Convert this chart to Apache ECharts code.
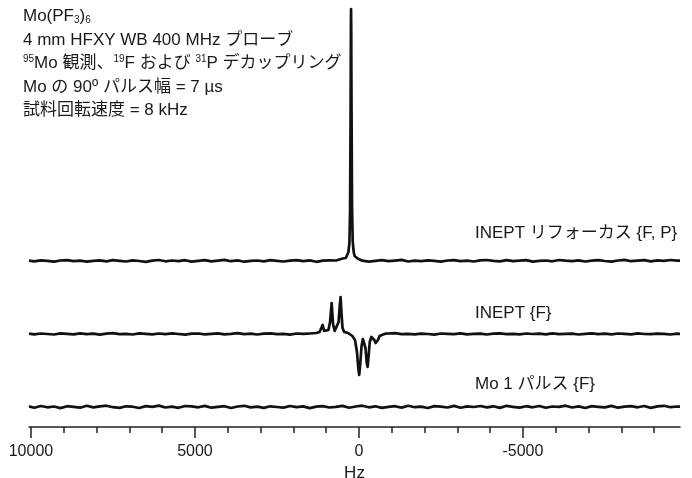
<!DOCTYPE html>
<html>
<head>
<meta charset="utf-8">
<script src="https://cdn.jsdelivr.net/npm/echarts@6/dist/echarts.min.js"></script>
<style>
html,body{margin:0;padding:0;background:#fff;}
#chart{width:692px;height:478px;}
</style>
</head>
<body>
<div id="chart"></div>
<script>
// ---- data ----
const titleLines = ['Mo(PF{sub|3}){sub|6}', '4 mm HFXY WB 400 MHz プローブ', '{sup|95}Mo 観測、{sup|19}F および {sup|31}P デカップリング', 'Mo の 90º パルス幅 = 7 µs', '試料回転速度 = 8 kHz'];
const traceNames = ['INEPT リフォーカス {F, P}', 'INEPT {F}', 'Mo 1 パルス {F}'];
const tickValues = [10000, 5000, 0, -5000];
const minorTickValues = [9000, 8000, 7000, 6000, 4000, 3000, 2000, 1000, -1000, -2000, -3000, -4000, -6000, -7000, -8000, -9000];
const axisName = 'Hz';

const baselineHz = [10060, 9900, 9700, 9500, 9300, 9100, 8900, 8700, 8500, 8300, 8100, 7900, 7700, 7500, 7300, 7100, 6900, 6700, 6500, 6300, 6100, 5900, 5700, 5500, 5300, 5100, 4900, 4700, 4500, 4300, 4100, 3900, 3700, 3500, 3300, 3100, 2900, 2700, 2500, 2300, 2100, 1900, 1700, 1500, 1300, 1100, 900, 700, 500, 300, 100, -100, -300, -500, -700, -900, -1100, -1300, -1500, -1700, -1900, -2100, -2300, -2500, -2700, -2900, -3100, -3300, -3500, -3700, -3900, -4100, -4300, -4500, -4700, -4900, -5100, -5300, -5500, -5700, -5900, -6100, -6300, -6500, -6700, -6900, -7100, -7300, -7500, -7700, -7900, -8100, -8300, -8500, -8700, -8900, -9100, -9300, -9500, -9700, -9790];

const topNoise = [0.4,-0.3,0.7,0.1,-0.6,0.5,0.9,-0.2,0.3,-0.7,
0.2,0.6,-0.4,0.8,0.1,-0.5,0.7,0.0,-0.8,0.4,
1.0,-0.3,0.5,-0.1,0.8,-0.6,0.2,0.9,-0.4,0.3,
1.1,-0.2,0.6,-0.7,0.1,0.5,-0.3,0.8,0.2,-0.5,
0.4,0.9,-0.1,0.6,-0.8,0.3,0.7,-0.4,0.2,1.0,
-0.3,0.5,-0.6,0.1,0.8,-0.2,0.4,1.1,-0.5,0.3,
-0.1,0.7,0.2,-0.7,0.5,0.9,-0.2,0.3,-0.5,0.6,
1.0,0.1,-0.4,0.8,-0.1,0.4,0.9,-0.6,0.2,0.5,
-0.3,1.0,0.3,-0.2,0.7,-0.5,0.4,0.8,0.0,-0.6,
0.5,1.1,-0.2,0.3,0.8,-0.4,0.6,0.2,1.0,0.4,
0.3];
const midNoise = [0.3,-0.4,0.5,0.0,-0.5,0.6,0.2,-0.3,0.7,-0.2,
0.4,-0.6,0.3,0.8,-0.1,0.2,-0.5,0.6,0.1,-0.4,
0.5,-0.2,0.7,0.0,-0.6,0.3,0.5,-0.3,0.2,0.6,
-0.4,0.1,0.8,-0.2,0.4,-0.5,0.3,0.6,-0.1,0.2,
-0.6,0.5,0.1,-0.3,0.7,0.0,-0.4,0.4,0.2,-0.2,
0.6,-0.5,0.3,0.1,-0.3,0.5,0.8,-0.1,0.2,-0.4,
0.4,0.0,-0.6,0.5,0.2,-0.2,0.7,-0.3,0.1,0.4,
-0.5,0.3,0.6,-0.1,0.2,-0.4,0.5,0.0,0.3,-0.3,
0.6,-0.2,0.1,0.4,-0.5,0.2,0.7,-0.1,0.3,-0.4,
0.5,0.1,-0.3,0.6,0.0,-0.2,0.4,0.2,-0.5,0.3,
0.1];
const botNoise = [0.6,-0.8,1.0,-0.3,0.5,-1.1,0.8,0.2,-0.7,1.2,
-0.4,0.6,1.3,-0.2,-0.9,0.7,0.3,-1.0,0.9,0.1,
1.4,-0.5,0.4,-0.8,1.0,0.6,-0.3,1.1,-0.7,0.2,
0.8,-1.0,0.5,1.2,-0.4,0.3,-0.9,0.7,0.0,-0.6,
1.0,-0.2,0.6,-1.1,0.4,0.9,-0.5,0.2,1.1,-0.8,
0.5,1.3,-0.3,0.7,-0.9,0.1,0.8,-0.6,1.2,-0.2,
0.4,-1.0,0.9,0.3,-0.5,1.1,-0.7,0.6,0.0,1.0,
-0.4,0.7,-0.9,1.2,0.2,-0.6,0.8,-0.3,1.0,-0.8,
0.5,0.1,1.3,-0.5,0.6,-1.0,0.9,0.2,-0.4,1.1,
-0.7,0.4,0.8,-0.3,1.0,-0.9,0.6,1.2,-0.2,0.5,
0.3];

// INEPT refocused {F,P}: single line
const topPeakHz  = [700, 600, 500, 450, 400, 360, 320, 290, 270, 255, 245, 240, 235, 225, 210, 190, 160, 130, 90, 40, -20, -100];
const topPeakVal = [0.5, 1.5, 2.5, 2, 3, 5, 9, 18, 50, 140, 230, 252, 232, 150, 55, 20, 9, 5, 3, 2.5, 1, 0.3];

// INEPT {F}: anti-phase multiplet
const midPeakHz  = [1500, 1300, 1200, 1150, 1107, 1060, 1000, 930, 880, 832, 790, 740, 680, 620, 585, 558, 530, 500, 450, 400, 330, 280, 200, 120, 60, 20, -9, -40, -80, -120, -160, -200, -235, -265, -295, -330, -380, -420, -470, -510, -540, -580, -630, -700, -800];
const midPeakVal = [0.5, 1, 2, 4, 9, 3, 2, 4, 12, 31, 10, 3, 3, 12, 28, 37, 20, 6, 2, 1.5, 1, 0, -2, -6, -18, -34, -41, -30, -12, -5, -5, -14, -28, -33, -22, -8, -3, -3, -6, -9, -10, -6, -2, -1, 0.3];

// Mo single pulse {F}: no signal
const botPeakHz = [];
const botPeakVal = [];

// ---- layout ----
const AXIS_MIN = -9790, AXIS_MAX = 10060;
const offsets = [166, 93, 20];
const FONT_LATIN = '"Liberation Sans", "Noto Sans CJK JP", sans-serif';

function buildTrace(noise, peakHz, peakVal, offset) {
  const hi = peakHz.length ? peakHz[0] : Infinity;
  const lo = peakHz.length ? peakHz[peakHz.length - 1] : Infinity;
  const pts = [];
  baselineHz.forEach((hz, i) => {
    if (!peakHz.length || hz > hi || hz < lo) pts.push([hz, offset + (noise[i] || 0)]);
  });
  peakHz.forEach((hz, i) => pts.push([hz, offset + peakVal[i]]));
  pts.sort((a, b) => b[0] - a[0]);
  return pts;
}

const traces = [
  buildTrace(topNoise, topPeakHz, topPeakVal, offsets[0]),
  buildTrace(midNoise, midPeakHz, midPeakVal, offsets[1]),
  buildTrace(botNoise, botPeakHz, botPeakVal, offsets[2])
];

const chart = echarts.init(document.getElementById('chart'), null, {renderer: 'canvas'});

const titleY = [17.5, 42, 64.5, 88.5, 112];
const labelY = [233, 313, 384];
const graphics = [];
titleLines.forEach((t, i) => {
  graphics.push({
    type: 'text', left: 23, top: titleY[i] - 10, silent: true,
    style: {
      text: t, fill: '#1a1a1a', fontSize: 17, fontFamily: FONT_LATIN,
      rich: {
        sub: {fontSize: 10, fontFamily: FONT_LATIN, verticalAlign: 'bottom', padding: [9, 0, 0, 0], fill: '#1a1a1a'},
        sup: {fontSize: 10, fontFamily: FONT_LATIN, verticalAlign: 'top', fill: '#1a1a1a'}
      }
    }
  });
});
traceNames.forEach((t, i) => {
  graphics.push({
    type: 'text', x: 475, y: labelY[i], silent: true,
    style: {text: t, fill: '#1a1a1a', fontSize: 17, fontFamily: FONT_LATIN, verticalAlign: 'middle'}
  });
});

const option = {
  animation: false,
  backgroundColor: '#fff',
  grid: {left: 29, right: 12, top: 0, bottom: 51, containLabel: false, outerBoundsMode: 'none'},
  xAxis: [
    {
      type: 'value', min: AXIS_MIN, max: AXIS_MAX, inverse: true, position: 'bottom',
      name: axisName, nameLocation: 'middle', nameGap: 29,
      nameTextStyle: {fontSize: 17, color: '#1a1a1a', fontFamily: FONT_LATIN},
      axisLine: {show: true, onZero: false, lineStyle: {color: '#222', width: 1.5}},
      axisTick: {show: true, customValues: tickValues, length: 11, lineStyle: {color: '#222', width: 1.5}},
      axisLabel: {show: true, customValues: tickValues, margin: 17, fontSize: 16, color: '#1a1a1a',
        fontFamily: FONT_LATIN,
        formatter: v => String(v)},
      splitLine: {show: false}
    },
    {
      type: 'value', min: AXIS_MIN, max: AXIS_MAX, inverse: true, position: 'bottom', offset: 0,
      axisLine: {show: false},
      axisTick: {show: true, customValues: minorTickValues, length: 6, lineStyle: {color: '#222', width: 1.5}},
      axisLabel: {show: false},
      splitLine: {show: false}
    }
  ],
  yAxis: {type: 'value', min: 0, max: 427, show: false},
  series: traces.map((d, i) => ({
    type: 'line', name: traceNames[i], data: d, xAxisIndex: 0,
    showSymbol: false, symbol: 'none', clip: false,
    lineStyle: {color: '#111', width: 2.7, join: 'round'}
  })),
  graphic: graphics
};
chart.setOption(option);
</script>
</body>
</html>
